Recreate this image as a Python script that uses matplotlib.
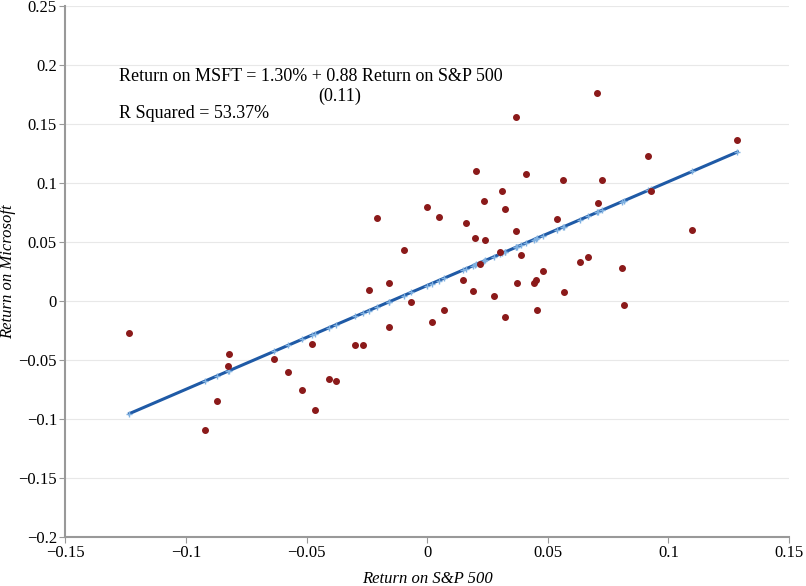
import numpy as np
import matplotlib
matplotlib.use("Agg")
from matplotlib import pyplot as plt

plt.rcParams['font.family'] = ['Liberation Serif', 'DejaVu Serif']

sp500 = [-0.1234, -0.0921, -0.0871, -0.0825, -0.0821, -0.0635, -0.0577, -0.0517, -0.0476, -0.0464,
         -0.0405, -0.0379, -0.0298, -0.0264, -0.0243, -0.0207, -0.0157, -0.0157, -0.0098, -0.0066,
         -0.0001, 0.0047, 0.0019, 0.0071, 0.0148, 0.0160, 0.0190, 0.0198, 0.0204, 0.0220,
         0.0236, 0.0241, 0.0278, 0.0303, 0.0309, 0.0324, 0.0324, 0.0367, 0.0369, 0.0373,
         0.0387, 0.0409, 0.0441, 0.0452, 0.0456, 0.0479, 0.0537, 0.0562, 0.0567, 0.0633,
         0.0667, 0.0705, 0.0723, 0.0708, 0.0806, 0.0814, 0.0917, 0.0927, 0.1099, 0.1286]
msft = [-0.0270, -0.1091, -0.0853, -0.0553, -0.0453, -0.0496, -0.0601, -0.0754, -0.0366, -0.0929,
        -0.0666, -0.0678, -0.0372, -0.0377, 0.0094, 0.0706, 0.0153, -0.0221, 0.0431, -0.0014,
        0.0793, 0.0712, -0.0181, -0.0077, 0.0173, 0.0657, 0.0085, 0.0530, 0.1103, 0.0312,
        0.0850, 0.0519, 0.0043, 0.0417, 0.0933, 0.0774, -0.0139, 0.0593, 0.1556, 0.0153,
        0.0389, 0.1071, 0.0147, 0.0173, -0.0077, 0.0255, 0.0695, 0.1020, 0.0074, 0.0332,
        0.0368, 0.1758, 0.1026, 0.0827, 0.0278, -0.0037, 0.1224, 0.0933, 0.0601, 0.1361]
alpha = 0.013
beta = 0.88

x = np.array(sp500)
y = np.array(msft)
order = np.argsort(x)
fitted = alpha + beta * x[order]

fig = plt.figure(figsize=(8.06, 5.86), dpi=100)
ax = fig.add_axes([0.081, 0.084, 0.898, 0.906])

ax.plot(x[order], fitted, color='#1f5aa6', lw=2.2, marker='+', ms=4,
        mec='#7fb0e0', zorder=2)
ax.scatter(x, y, s=16, color='#8b1a1a', zorder=3)

ax.set_xlim(-0.15, 0.15)
ax.set_ylim(-0.2, 0.25)
ax.set_xticks(np.arange(-0.15, 0.151, 0.05))
ax.set_yticks(np.arange(-0.2, 0.251, 0.05))
ax.set_xticklabels(['\u22120.15', '\u22120.1', '\u22120.05', '0', '0.05', '0.1', '0.15'])
ax.set_yticklabels(['\u22120.2', '\u22120.15', '\u22120.1', '\u22120.05', '0', '0.05', '0.1',
                    '0.15', '0.2', '0.25'])
ax.grid(axis='y', color='#e8e8e8', lw=0.8)
ax.set_axisbelow(True)
for s in ['top', 'right']:
    ax.spines[s].set_visible(False)
for s in ['left', 'bottom']:
    ax.spines[s].set_color('#999999')
    ax.spines[s].set_linewidth(1.5)
ax.tick_params(colors='#999999', labelcolor='black', labelsize=12, length=4, pad=2)

ax.set_xlabel('Return on S&P 500', fontsize=12, style='italic')
ax.set_ylabel('Return on Microsoft', fontsize=12, style='italic')
ax.yaxis.set_label_coords(-0.068, 0.5)
ax.xaxis.set_label_coords(0.5, -0.065)

ax.text(-0.1277, 0.19, 'Return on MSFT = 1.30% + 0.88 Return on S&P 500', fontsize=13, va='center')
ax.text(-0.0364, 0.173, '(0.11)', fontsize=13, va='center', ha='center')
ax.text(-0.1277, 0.159, 'R Squared = 53.37%', fontsize=13, va='center')

fig.savefig('out.png')
